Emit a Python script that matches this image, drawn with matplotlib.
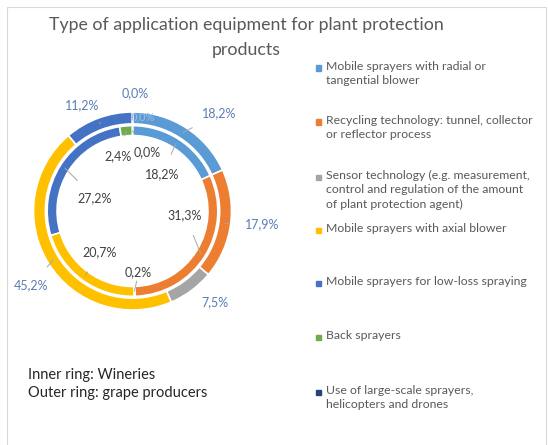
import numpy as np
import matplotlib.pyplot as plt
from matplotlib.patches import Rectangle

plt.rcParams['font.family'] = ['Lato', 'DejaVu Sans']

categories = [
    'Mobile sprayers with radial or\ntangential blower',
    'Recycling technology: tunnel, collector\nor reflector process',
    'Sensor technology (e.g. measurement,\ncontrol and regulation of the amount\nof plant protection agent)',
    'Mobile sprayers with axial blower',
    'Mobile sprayers for low-loss spraying',
    'Back sprayers',
    'Use of large-scale sprayers,\nhelicopters and drones',
]
grape_producers = [18.2, 17.9, 7.5, 45.2, 11.2, 0.0, 0.0]   # outer ring
wineries = [18.2, 31.3, 0.2, 20.7, 27.2, 2.4, 0.0]          # inner ring
colors = ['#5B9BD5', '#ED7D31', '#A5A5A5', '#FFC000', '#4472C4', '#70AD47', '#264478']

W, H = 548, 445
cx, cy, R = 132.5, 211, 99.0   # ring centre and outer radius, in pixels

fig = plt.figure(figsize=(W / 100, H / 100), dpi=100)
ax = fig.add_axes([0, 0, 1, 1])

wp = dict(edgecolor='white', linewidth=1.2)
outer, _ = ax.pie(grape_producers, radius=1.0, colors=colors, startangle=90,
                  counterclock=False, wedgeprops=dict(width=0.12, **wp))
inner, _ = ax.pie(wineries, radius=0.862, colors=colors, startangle=90,
                  counterclock=False, wedgeprops=dict(width=0.10, **wp))

# pie() resets the limits, so fix them afterwards
ax.set_xlim(-cx / R, (W - cx) / R)
ax.set_ylim(-(H - cy) / R, cy / R)
ax.set_aspect('equal')
ax.axis('off')


def fmt(v):
    return f'{v:.1f}%'.replace('.', ',')


def wedge_point(wedge, r):
    a = np.deg2rad((wedge.theta1 + wedge.theta2) / 2)
    return r * np.cos(a), r * np.sin(a)


# label positions (x, y) in ring units
outer_pos = [(0.88, 0.99), (1.31, -0.13), (0.83, -0.92), (-1.02, -0.75),
             (-0.51, 1.07), (0.10, 0.95), (0.03, 1.19)]
inner_pos = [(0.30, 0.37), (0.53, -0.04), (0.06, -0.62), (-0.33, -0.42),
             (-0.38, 0.13), (-0.15, 0.55), (0.15, 0.59)]

for i, (w, v, pos) in enumerate(zip(outer, grape_producers, outer_pos)):
    if i == 5:
        # label that sits on the ring itself, no leader
        ax.text(*pos, fmt(v), ha='center', va='center', fontsize=8,
                color='#9DBDE6', zorder=4)
        continue
    ax.annotate(fmt(v), xy=wedge_point(w, 0.94), xytext=pos,
                ha='center', va='center', fontsize=9, color='#5B7CB5',
                arrowprops=dict(arrowstyle='-', color='#A6A6A6', lw=0.7,
                                shrinkA=9, shrinkB=0))

for w, v, pos in zip(inner, wineries, inner_pos):
    ax.annotate(fmt(v), xy=wedge_point(w, 0.81), xytext=pos,
                ha='center', va='center', fontsize=9, color='#404040',
                arrowprops=dict(arrowstyle='-', color='#A6A6A6', lw=0.7,
                                shrinkA=9, shrinkB=0))

# title
fig.text(246 / W, 1 - 25 / H, 'Type of application equipment for plant protection',
         ha='center', va='center', fontsize=12.8, color='#595959')
fig.text(246 / W, 1 - 50 / H, 'products',
         ha='center', va='center', fontsize=12.8, color='#595959')

# legend
leg_y = [68, 122, 177, 230, 283, 337, 392]
for name, col, y in zip(categories, colors, leg_y):
    fig.add_artist(Rectangle(((318 - 2.5) / W, 1 - (y + 2.5) / H), 5 / W, 5 / H,
                             transform=fig.transFigure, color=col))
    fig.text(326 / W, 1 - (y - 7) / H, name, ha='left', va='top',
             fontsize=8.8, color='#595959', linespacing=1.38)

fig.text(28 / W, 1 - 375 / H, 'Inner ring: Wineries', ha='left', va='center',
         fontsize=10.5, color='#262626')
fig.text(28 / W, 1 - 393 / H, 'Outer ring: grape producers', ha='left', va='center',
         fontsize=10.5, color='#262626')

# chart frame
fig.add_artist(Rectangle((7 / W, -0.1), (546 - 7) / W, 1.1 - 7 / H,
                         transform=fig.transFigure, fill=False,
                         edgecolor='#D9D9D9', lw=0.8))

fig.savefig('out.png', dpi=100)
